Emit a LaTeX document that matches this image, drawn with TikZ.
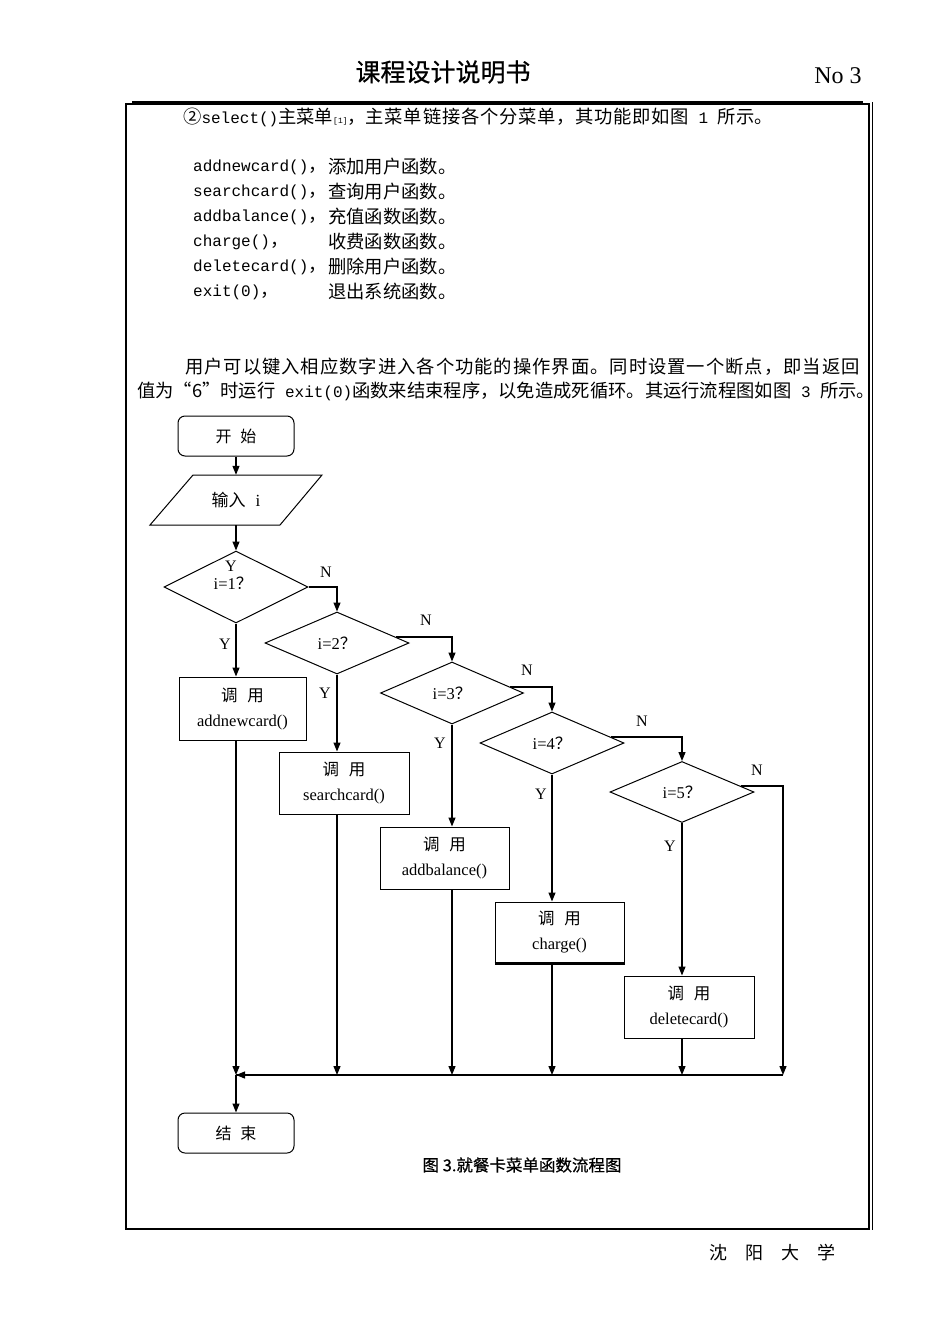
\documentclass[tikz,border=0pt]{standalone}
\usepackage{fontspec}
\setmainfont{Liberation Serif}
\newfontfamily\cjk{Noto Sans CJK SC}
\newfontfamily\cjkb[FakeBold=0.6]{Noto Sans CJK SC}
\newfontfamily\mono{Liberation Mono}
\usetikzlibrary{arrows.meta,shapes.geometric,calc}
\newcommand\lt[1]{{\fontsize{16}{20}\selectfont\mono #1}}
\newcommand\bodyfont{\fontsize{18.3}{22}\selectfont\cjk}
\newdimen\spsk
\def\spreadit#1#2\relax{#1\ifx\relax#2\relax\else\hskip\spsk\spreadit#2\relax\fi}
\tikzset{
  txt/.style={inner sep=0pt, anchor=west, font=\bodyfont},
  term/.style={draw, rounded corners=7pt, minimum width=116pt, minimum height=40pt, inner sep=0pt, line width=1pt, font=\fontsize{16}{20}\selectfont\cjk},
  fbox/.style={draw, line width=1pt, inner sep=0pt, align=center, font=\fontsize{16.5}{25}\selectfont},
  dia/.style={diamond, draw, inner sep=0pt, line width=1pt, minimum width=144pt, minimum height=62pt, font=\fontsize{16.5}{20}\selectfont},
  lbl/.style={inner sep=0pt, font=\fontsize{16}{18}\selectfont},
  ln/.style={line width=1.2pt},
  arr/.style={ln, -{Triangle[length=9pt,width=7pt]}}
}
\begin{document}
\begin{tikzpicture}[x=1pt,y=-1pt]
\fill[white] (0,0) rectangle (950,1344);
\useasboundingbox (0,0) rectangle (950,1344);
% header and frame
\node[inner sep=0pt, font=\fontsize{25}{28}\selectfont\cjkb] (title) at (443,72) {课程设计说明书};
\node[inner sep=0pt, font=\fontsize{24}{26}\selectfont] (no) at (838,76) {No 3};
\draw[line width=1.8pt] (132,102) -- (863,102);
\draw[line width=1.2pt] (126,104) rectangle (869,1229);
\draw[line width=1pt] (872,102) -- (872,1230);
\node[inner sep=0pt, font=\fontsize{18}{20}\selectfont\cjk] (foot) at (772,1253) {沈\hspace{1em}阳\hspace{1em}大\hspace{1em}学};
% body text
\node[txt] (l1) at (183,117) {②\lt{select()}主菜单{\fontsize{8}{8}\selectfont\mono[1]}，\spsk=0.75pt\spreadit 主菜单链接各个分菜单，其功能即如图\relax\lt{ 1 }所示。};
\node[txt] (f1) at (193,167) {\lt{addnewcard()}，};
\node[txt] (g1) at (328,167) {添加用户函数。};
\node[txt] (f2) at (193,192) {\lt{searchcard()}，};
\node[txt] (g2) at (328,192) {查询用户函数。};
\node[txt] (f3) at (193,217) {\lt{addbalance()}，};
\node[txt] (g3) at (328,217) {充值函数函数。};
\node[txt] (f4) at (193,242) {\lt{charge()}，};
\node[txt] (g4) at (328,242) {收费函数函数。};
\node[txt] (f5) at (193,267) {\lt{deletecard()}，};
\node[txt] (g5) at (328,267) {删除用户函数。};
\node[txt] (f6) at (193,292) {\lt{exit(0)}，};
\node[txt] (g6) at (328,292) {退出系统函数。};
\node[txt] (p1) at (185,367) {\spsk=1pt\spreadit 用户可以键入相应数字进入各个功能的操作界面。同时设置一个断点，即当返回\relax};
\node[txt] (p2) at (137,391) {值为“6”时运行\lt{ exit(0)}函数来结束程序，以免造成死循环。其运行流程图如图\lt{ 3 }所示。};
% flowchart
\node[term] (st) at (236,436) {开\hspace{0.55em}始};
\node[inner sep=0pt, minimum height=50pt, font=\fontsize{17}{20}\selectfont] (inp) at (236,500) {{\cjk 输入}\hspace{0.6em}i};
\draw[line width=1pt] (193,475) -- (322,475) -- (280,525) -- (150,525) -- cycle;
\node[dia, minimum height=72pt] (d1) at (236,587) {};
\node[lbl, font=\fontsize{16.5}{20}\selectfont] (t1) at (233,583) {i=1{\cjk ？}};
\node[lbl] (y0) at (231,566) {Y};
\node[dia] (d2) at (337,643) {i=2{\cjk ？}};
\node[dia, minimum width=143pt] (d3) at (452,693) {i=3{\cjk ？}};
\node[dia] (d4) at (552,743) {i=4{\cjk ？}};
\node[dia, minimum height=61pt] (d5) at (682,792) {i=5{\cjk ？}};
\node[fbox, minimum width=127pt, minimum height=63pt] (b1) at (242.5,708.5) {{\cjk 调\hspace{0.6em}用}\\addnewcard()};
\node[fbox, minimum width=130pt, minimum height=62pt] (b2) at (344,783) {{\cjk 调\hspace{0.6em}用}\\searchcard()};
\node[fbox, minimum width=129pt, minimum height=62pt] (b3) at (444.5,858) {{\cjk 调\hspace{0.6em}用}\\addbalance()};
\node[fbox, minimum width=129pt, minimum height=61pt] (b4) at (559.5,932.5) {{\cjk 调\hspace{0.6em}用}\\charge()};
\draw[line width=2.2pt] (b4.south west) -- (b4.south east);
\node[fbox, minimum width=130pt, minimum height=62pt] (b5) at (689,1007) {{\cjk 调\hspace{0.6em}用}\\deletecard()};
\node[term] (en) at (236,1133) {结\hspace{0.55em}束};
\node[inner sep=0pt, font=\fontsize{16.5}{19}\selectfont\cjkb] (cap) at (522,1165) {图 3.就餐卡菜单函数流程图};
% labels
\node[lbl] (n1) at (326,572) {N};
\node[lbl] (y1) at (225,644) {Y};
\node[lbl] (n2) at (426,620) {N};
\node[lbl] (y2) at (325,693) {Y};
\node[lbl] (n3) at (527,670) {N};
\node[lbl] (y3) at (440,743) {Y};
\node[lbl] (n4) at (642,721) {N};
\node[lbl] (y4) at (541,794) {Y};
\node[lbl] (n5) at (757,770) {N};
\node[lbl] (y5) at (670,846) {Y};
% merge points
\coordinate (mA) at (236,1075);
\coordinate (mB) at (337,1075);
\coordinate (mC) at (452,1075);
\coordinate (mD) at (552,1075);
\coordinate (mE) at (682,1075);
\coordinate (mF) at (783,1075);
\coordinate (mG) at (308,1075);
% connectors
\draw[arr] (st) -- (inp);
\draw[arr] (inp) -- (d1);
\draw[arr] (d1.east) -| (d2.north);
\draw[arr] ($(d2.east)+(-14,-6)$) -| (d3.north);
\draw[arr] ($(d3.east)+(-14,-6)$) -| (d4.north);
\draw[arr] ($(d4.east)+(-14,-6)$) -| (d5.north);
\draw[arr] ($(d5.east)+(-14,-6)$) -| (mF);
\draw[arr] (d1.south) -- (d1.south |- b1.north);
\draw[arr] (d2.south) -- (d2.south |- b2.north);
\draw[arr] (d3.south) -- (d3.south |- b3.north);
\draw[arr] (d4.south) -- (d4.south |- b4.north);
\draw[arr] (d5.south) -- (d5.south |- b5.north);
\draw[arr] (b1.south -| d1.south) -- (mA);
\draw[arr] (b2.south -| d2.south) -- (mB);
\draw[arr] (b3.south -| d3.south) -- (mC);
\draw[arr] (b4.south -| d4.south) -- (mD);
\draw[arr] (b5.south -| d5.south) -- (mE);
\draw[arr] (mA) -- (en);
\draw[ln] (mF) -- (mA);
\draw[line width=2.6pt, gray] (mG) -- ($(mA)+(8,0)$);
\draw[arr] (mG) -- (mA);
\end{tikzpicture}
\end{document}
